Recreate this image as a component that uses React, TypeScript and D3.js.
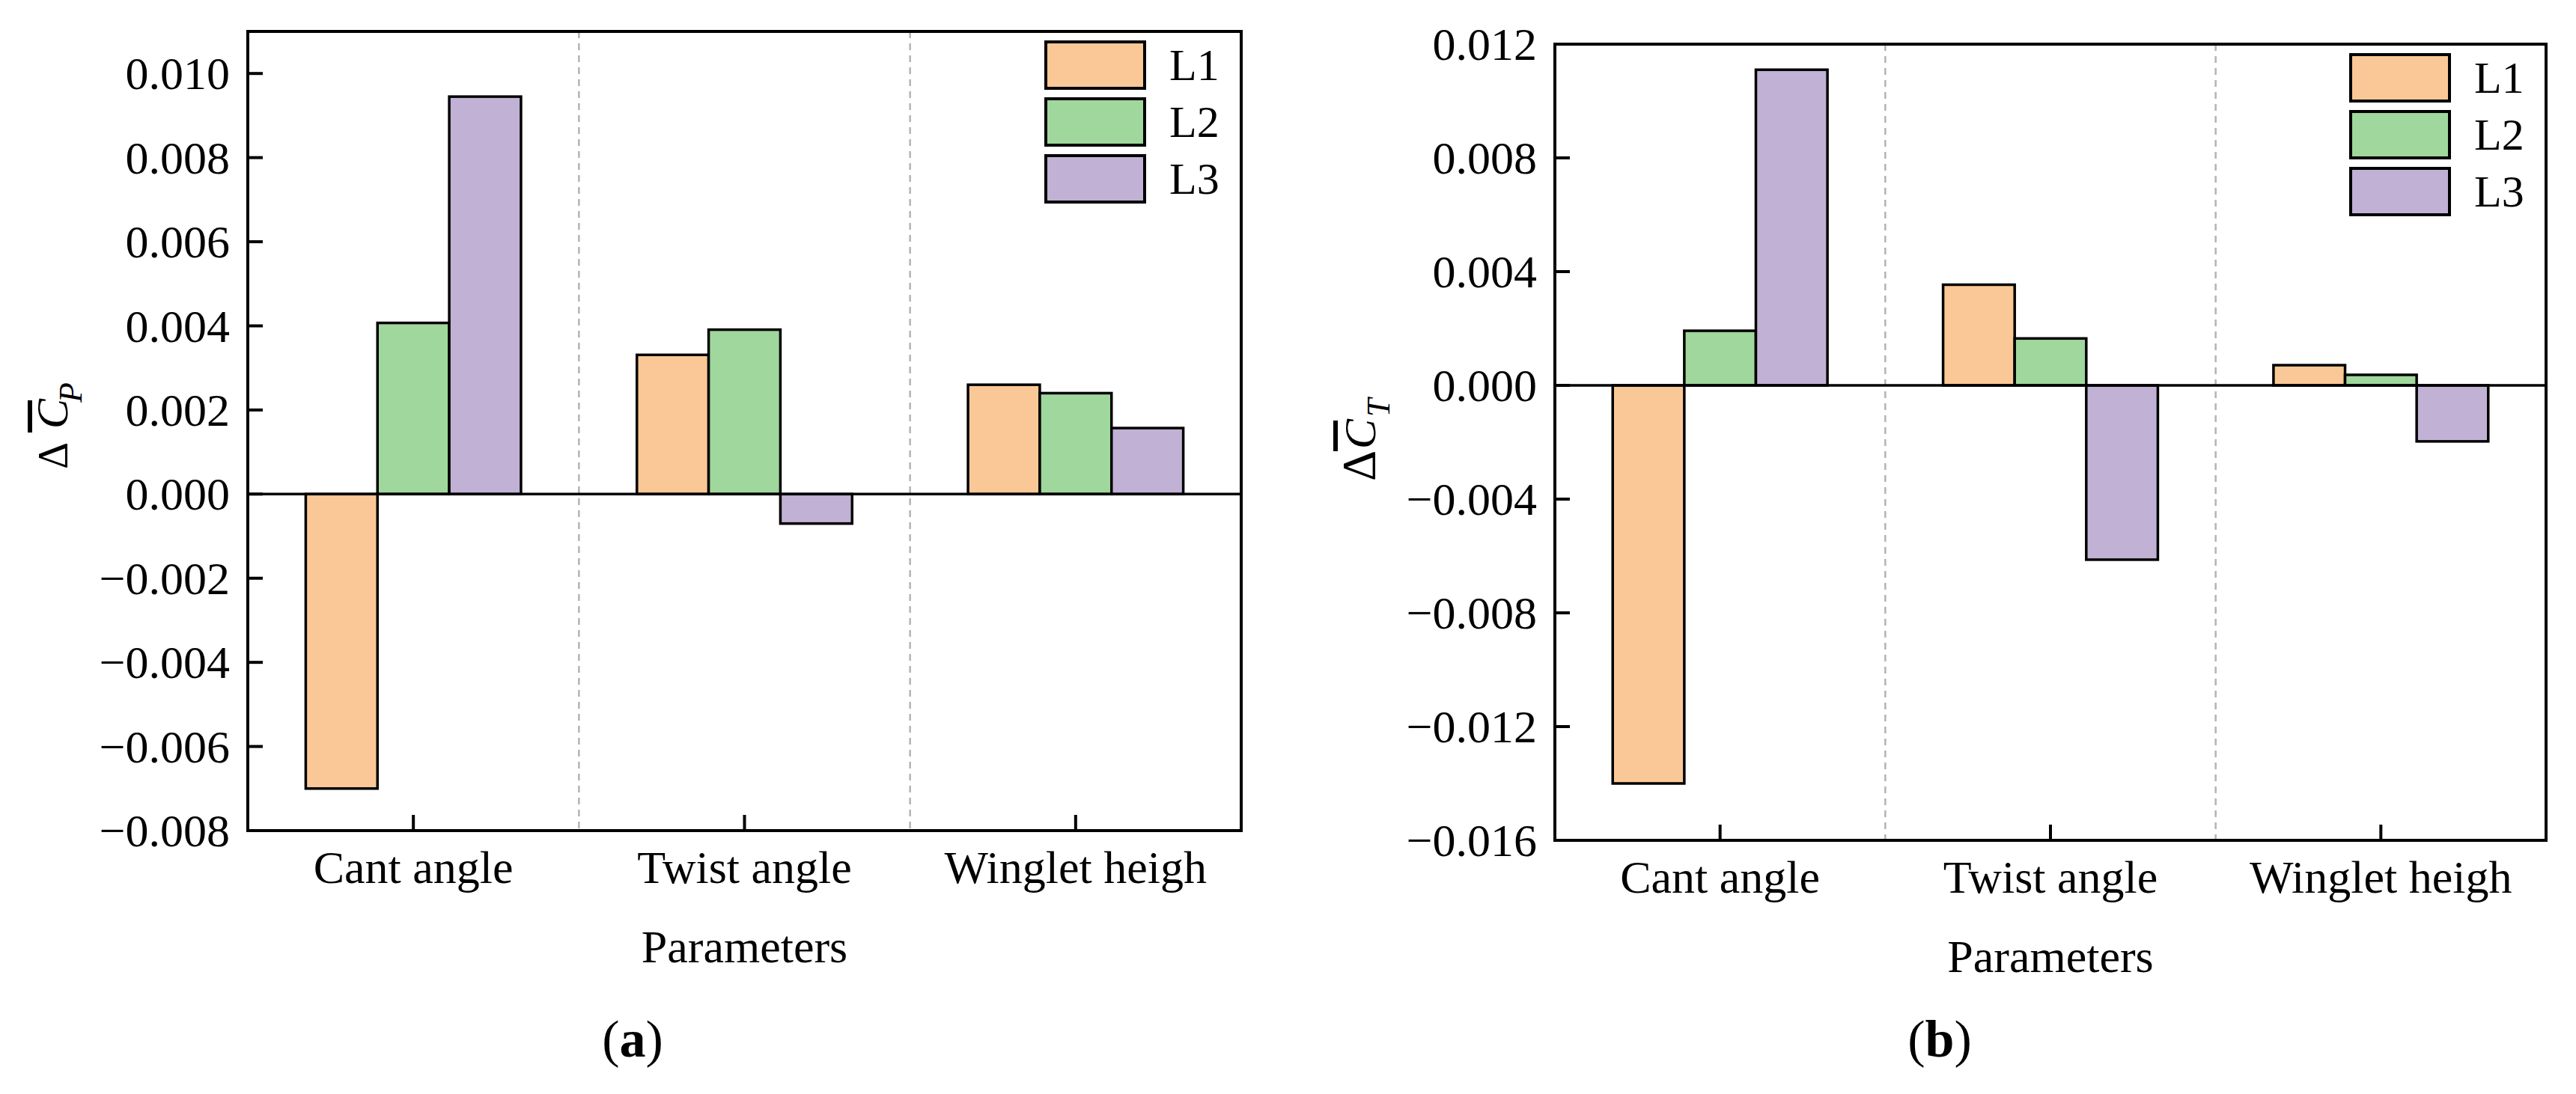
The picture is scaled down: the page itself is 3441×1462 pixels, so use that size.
import * as d3 from "d3";
import { useEffect, useRef } from "react";

const categories = ["Cant angle", "Twist angle", "Winglet heigh"];
const seriesNames = ["L1", "L2", "L3"];
const seriesColors = ["#FAC896", "#9FD79C", "#C1B1D5"];

// panel (a): delta C_P
const cpL1 = [-0.007, 0.00331, 0.0026];
const cpL2 = [0.00407, 0.00391, 0.0024];
const cpL3 = [0.00945, -0.0007, 0.00157];
const cpTicks = [-0.008, -0.006, -0.004, -0.002, 0, 0.002, 0.004, 0.006, 0.008, 0.01];

// panel (b): delta C_T
const ctL1 = [-0.014, 0.00354, 0.00071];
const ctL2 = [0.00192, 0.00165, 0.00037];
const ctL3 = [0.0111, -0.00613, -0.00197];
const ctTicks = [-0.016, -0.012, -0.008, -0.004, 0, 0.004, 0.008, 0.012];

const FONT = "Liberation Serif, Tinos, Times New Roman, DejaVu Serif, Noto Serif, serif";

type Panel = {
    left: number;
    right: number;
    top: number;
    bottom: number;
    domain: [number, number];
    ticks: number[];
    series: number[][];
    tag: string;
    sub: string;
    label: { x: number; y: number; delta: number; deltaSize: number; c: number; s: number; bar: [number, number]; barY: number };
};

function drawPanel(svg: d3.Selection<SVGSVGElement, unknown, null, undefined>, p: Panel) {
    const g = svg.append("g");

    const xCat = d3.scaleBand<string>().domain(categories).range([p.left, p.right]).padding(0);
    const bw = xCat.bandwidth();
    const xSer = d3
        .scaleBand<string>()
        .domain(seriesNames)
        .range([bw * 0.175, bw * 0.825])
        .padding(0);
    const y = d3.scaleLinear().domain(p.domain).range([p.bottom, p.top]);

    // dashed separators between groups
    g.selectAll(".sep")
        .data(categories.slice(1))
        .join("line")
        .attr("x1", (d) => xCat(d)!)
        .attr("x2", (d) => xCat(d)!)
        .attr("y1", p.top)
        .attr("y2", p.bottom)
        .attr("stroke", "#b4b4b4")
        .attr("stroke-width", 2.5)
        .attr("stroke-dasharray", "9,7");

    // bars
    const flat = p.series.flatMap((vals, si) =>
        vals.map((v, ci) => ({ cat: categories[ci], ser: seriesNames[si], si, v }))
    );
    g.selectAll(".bar")
        .data(flat)
        .join("rect")
        .attr("x", (d) => xCat(d.cat)! + xSer(d.ser)!)
        .attr("width", xSer.bandwidth())
        .attr("y", (d) => y(Math.max(0, d.v)))
        .attr("height", (d) => Math.abs(y(d.v) - y(0)))
        .attr("fill", (d) => seriesColors[d.si])
        .attr("stroke", "#000")
        .attr("stroke-width", 3.5);

    // zero line
    g.append("line")
        .attr("x1", p.left)
        .attr("x2", p.right)
        .attr("y1", y(0))
        .attr("y2", y(0))
        .attr("stroke", "#000")
        .attr("stroke-width", 3.5);

    // frame
    g.append("rect")
        .attr("x", p.left)
        .attr("y", p.top)
        .attr("width", p.right - p.left)
        .attr("height", p.bottom - p.top)
        .attr("fill", "none")
        .attr("stroke", "#000")
        .attr("stroke-width", 4);

    // y ticks (inward)
    const fmt = d3.format(".3f");
    g.selectAll(".ytick")
        .data(p.ticks)
        .join("line")
        .attr("x1", p.left)
        .attr("x2", p.left + 20)
        .attr("y1", (d) => y(d))
        .attr("y2", (d) => y(d))
        .attr("stroke", "#000")
        .attr("stroke-width", 4);
    g.selectAll(".ylab")
        .data(p.ticks)
        .join("text")
        .attr("x", p.left - 24)
        .attr("y", (d) => y(d))
        .attr("dy", "0.34em")
        .attr("text-anchor", "end")
        .attr("font-family", FONT)
        .attr("font-size", 62)
        .text((d) => fmt(d));

    // x ticks (inward) and category labels
    g.selectAll(".xtick")
        .data(categories)
        .join("line")
        .attr("x1", (d) => xCat(d)! + bw / 2)
        .attr("x2", (d) => xCat(d)! + bw / 2)
        .attr("y1", p.bottom)
        .attr("y2", p.bottom - 21)
        .attr("stroke", "#000")
        .attr("stroke-width", 4);
    g.selectAll(".xlab")
        .data(categories)
        .join("text")
        .attr("x", (d) => xCat(d)! + bw / 2)
        .attr("y", p.bottom + 70)
        .attr("text-anchor", "middle")
        .attr("font-family", FONT)
        .attr("font-size", 62)
        .text((d) => d);

    // x-axis title
    g.append("text")
        .attr("x", (p.left + p.right) / 2)
        .attr("y", p.bottom + 176)
        .attr("text-anchor", "middle")
        .attr("font-family", FONT)
        .attr("font-size", 62)
        .text("Parameters");

    // y-axis title: Δ C̄_x
    const lab = p.label;
    const yl = g
        .append("g")
        .attr("transform", `translate(${lab.x},${lab.y}) rotate(-90)`)
        .attr("font-family", FONT);
    yl.append("text")
        .attr("x", lab.delta)
        .attr("y", 0)
        .attr("font-size", lab.deltaSize)
        .text("Δ");
    yl.append("text")
        .attr("x", lab.c)
        .attr("y", 0)
        .attr("font-style", "italic")
        .attr("font-size", 60)
        .text("C");
    yl.append("text")
        .attr("x", lab.s)
        .attr("y", 19)
        .attr("font-style", "italic")
        .attr("font-size", 44)
        .text(p.sub);
    yl.append("line")
        .attr("x1", lab.bar[0])
        .attr("x2", lab.bar[1])
        .attr("y1", lab.barY)
        .attr("y2", lab.barY)
        .attr("stroke", "#000")
        .attr("stroke-width", 6);

    // legend
    const lg = g.append("g");
    seriesNames.forEach((name, i) => {
        lg.append("rect")
            .attr("x", p.right - 261)
            .attr("y", p.top + 14 + i * 76)
            .attr("width", 132)
            .attr("height", 62)
            .attr("fill", seriesColors[i])
            .attr("stroke", "#000")
            .attr("stroke-width", 4);
        lg.append("text")
            .attr("x", p.right - 96)
            .attr("y", p.top + 65 + i * 76)
            .attr("font-family", FONT)
            .attr("font-size", 60)
            .text(name);
    });

    // panel tag "(a)" / "(b)"
    const tag = g
        .append("text")
        .attr("x", p.left + 514)
        .attr("y", 1412)
        .attr("text-anchor", "middle")
        .attr("font-family", FONT)
        .attr("font-size", 70);
    tag.append("tspan").text("(");
    tag.append("tspan").attr("font-weight", "bold").text(p.tag);
    tag.append("tspan").text(")");
}

export default function App() {
    const ref = useRef<SVGSVGElement | null>(null);

    useEffect(() => {
        if (!ref.current) return;
        const svg = d3.select(ref.current);
        svg.selectAll("*").remove();

        drawPanel(svg, {
            left: 331,
            right: 1658,
            top: 42,
            bottom: 1110,
            domain: [-0.008, 0.011],
            ticks: cpTicks,
            series: [cpL1, cpL2, cpL3],
            tag: "a",
            sub: "P",
            label: { x: 90, y: 567, delta: -60, deltaSize: 56, c: -6, s: 29, bar: [-11, 32], barY: -50 },
        });

        drawPanel(svg, {
            left: 2077,
            right: 3401,
            top: 59,
            bottom: 1123,
            domain: [-0.016, 0.012],
            ticks: ctTicks,
            series: [ctL1, ctL2, ctL3],
            tag: "b",
            sub: "T",
            label: { x: 1837, y: 588, delta: -55, deltaSize: 64, c: -12, s: 31, bar: [-15, 26], barY: -53 },
        });
    }, []);

    return (
        <svg
            ref={ref}
            width={3441}
            height={1462}
            style={{ position: "absolute", left: 0, top: 0, background: "#fff" }}
        ></svg>
    );
}
